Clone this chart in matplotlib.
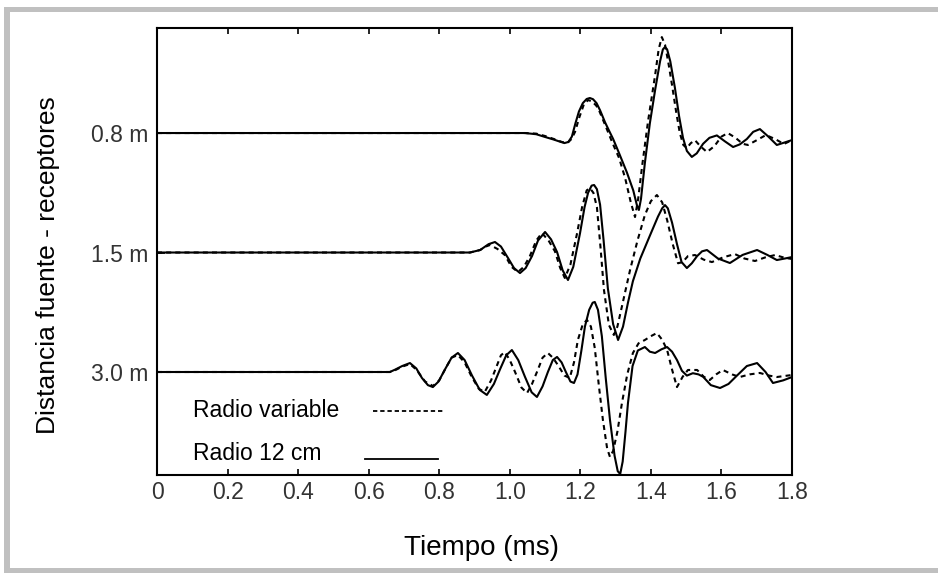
import matplotlib.pyplot as plt
from matplotlib.patches import Rectangle
from matplotlib.lines import Line2D

# receiver distances and where each trace sits on the vertical axis
distancias = ["0.8 m", "1.5 m", "3.0 m"]
offsets = [0.0, -1.0, -2.0]

# --- 0.8 m ---
t1_solid = [0.0, 0.972, 1.043, 1.075, 1.100, 1.125, 1.142, 1.155, 1.166, 1.176, 1.186, 1.196,
            1.207, 1.218, 1.227, 1.236, 1.246, 1.256, 1.270, 1.283, 1.293, 1.310, 1.332,
            1.350, 1.360, 1.366, 1.372, 1.383, 1.397, 1.412, 1.426, 1.434, 1.440, 1.446,
            1.455, 1.468, 1.480, 1.491, 1.502, 1.516, 1.530, 1.548, 1.566, 1.587, 1.610,
            1.633, 1.652, 1.672, 1.690, 1.709, 1.733, 1.757, 1.778, 1.800]
a1_solid = [0.0, 0.0, 0.0, -0.010, -0.033, -0.055, -0.072, -0.084, -0.075, -0.030, 0.080, 0.180,
            0.250, 0.285, 0.293, 0.283, 0.250, 0.190, 0.090, 0.010, -0.050, -0.170, -0.330,
            -0.480, -0.600, -0.644, -0.550, -0.250, 0.080, 0.360, 0.600, 0.700, 0.720, 0.700,
            0.600, 0.380, 0.140, -0.040, -0.150, -0.200, -0.170, -0.090, -0.040, -0.020, -0.070,
            -0.117, -0.095, -0.050, 0.010, 0.033, -0.030, -0.100, -0.080, -0.059]
t1_dash = [0.0, 0.972, 1.043, 1.075, 1.100, 1.125, 1.148, 1.163, 1.175, 1.185, 1.197, 1.210,
           1.222, 1.233, 1.245, 1.253, 1.270, 1.290, 1.310, 1.327, 1.343, 1.355, 1.364,
           1.375, 1.392, 1.412, 1.422, 1.431, 1.440, 1.450, 1.460, 1.472, 1.482, 1.492,
           1.502, 1.513, 1.525, 1.540, 1.559, 1.580, 1.600, 1.618, 1.640, 1.660, 1.675,
           1.700, 1.726, 1.752, 1.777, 1.800]
a1_dash = [0.0, 0.0, 0.0, -0.005, -0.025, -0.050, -0.075, -0.084, -0.050, 0.010, 0.130, 0.240,
           0.276, 0.265, 0.230, 0.190, 0.070, -0.075, -0.210, -0.377, -0.580, -0.703, -0.550,
           -0.280, 0.100, 0.485, 0.700, 0.803, 0.740, 0.580, 0.400, 0.170, 0.000, -0.100,
           -0.126, -0.085, -0.060, -0.110, -0.159, -0.110, -0.030, 0.000, -0.040, -0.090, -0.100,
           -0.060, -0.017, -0.050, -0.092, -0.059]

# --- 1.5 m ---
t2_solid = [0.0, 0.887, 0.916, 0.940, 0.958, 0.975, 0.995, 1.012, 1.029, 1.045, 1.063, 1.080,
            1.100, 1.117, 1.134, 1.150, 1.165, 1.180, 1.199, 1.212, 1.222, 1.232, 1.239,
            1.247, 1.256, 1.266, 1.278, 1.293, 1.307, 1.321, 1.335, 1.349, 1.370, 1.397,
            1.420, 1.432, 1.440, 1.448, 1.460, 1.474, 1.487, 1.502, 1.516, 1.531, 1.545,
            1.559, 1.590, 1.624, 1.660, 1.701, 1.730, 1.757, 1.780, 1.800]
a2_solid = [0.0, 0.0, 0.021, 0.070, 0.088, 0.050, -0.046, -0.130, -0.172, -0.130, -0.030, 0.100,
            0.172, 0.110, 0.004, -0.150, -0.230, -0.120, 0.160, 0.380, 0.500, 0.560, 0.565,
            0.530, 0.400, 0.100, -0.300, -0.600, -0.732, -0.620, -0.420, -0.240, -0.050, 0.140,
            0.300, 0.370, 0.397, 0.370, 0.250, 0.070, -0.080, -0.130, -0.090, -0.030, 0.010,
            0.021, -0.050, -0.088, -0.020, 0.021, -0.020, -0.063, -0.050, -0.038]
t2_dash = [0.0, 0.887, 0.916, 0.932, 0.944, 0.965, 0.986, 1.005, 1.023, 1.040, 1.057, 1.075,
           1.091, 1.110, 1.128, 1.143, 1.156, 1.172, 1.190, 1.205, 1.218, 1.227, 1.237,
           1.247, 1.257, 1.267, 1.281, 1.295, 1.305, 1.318, 1.341, 1.362, 1.383, 1.400,
           1.417, 1.432, 1.446, 1.462, 1.477, 1.490, 1.505, 1.525, 1.550, 1.573, 1.605,
           1.638, 1.665, 1.695, 1.725, 1.752, 1.780, 1.800]
a2_dash = [0.0, 0.0, 0.021, 0.050, 0.063, 0.030, -0.021, -0.120, -0.163, -0.120, -0.030, 0.100,
           0.163, 0.100, 0.010, -0.130, -0.213, -0.100, 0.150, 0.380, 0.520, 0.539, 0.500,
           0.380, 0.050, -0.314, -0.607, -0.690, -0.620, -0.450, -0.146, 0.100, 0.314, 0.430,
           0.481, 0.420, 0.272, 0.070, -0.090, -0.080, -0.030, -0.021, -0.060, -0.080, -0.040,
           -0.013, -0.050, -0.071, -0.040, -0.021, -0.045, -0.054]

# --- 3.0 m ---
t3_solid = [0.0, 0.660, 0.675, 0.695, 0.717, 0.735, 0.751, 0.768, 0.782, 0.798, 0.816, 0.835,
            0.853, 0.872, 0.893, 0.915, 0.935, 0.955, 0.972, 0.990, 1.006, 1.024, 1.043,
            1.062, 1.077, 1.093, 1.108, 1.122, 1.134, 1.147, 1.159, 1.172, 1.182, 1.192,
            1.203, 1.213, 1.225, 1.235, 1.241, 1.250, 1.261, 1.272, 1.284, 1.297, 1.306,
            1.313, 1.320, 1.328, 1.335, 1.348, 1.363, 1.383, 1.397, 1.412, 1.430, 1.446,
            1.460, 1.474, 1.488, 1.502, 1.519, 1.535, 1.548, 1.570, 1.596, 1.620, 1.644,
            1.672, 1.701, 1.725, 1.746, 1.775, 1.800]
a3_solid = [0.0, 0.0, 0.020, 0.050, 0.075, 0.030, -0.050, -0.110, -0.126, -0.080, 0.020, 0.120,
            0.159, 0.100, -0.030, -0.150, -0.192, -0.100, 0.020, 0.140, 0.184, 0.100, -0.040,
            -0.170, -0.209, -0.120, 0.000, 0.100, 0.126, 0.080, 0.000, -0.080, -0.092, -0.020,
            0.180, 0.380, 0.520, 0.580, 0.586, 0.520, 0.300, -0.050, -0.400, -0.700, -0.830,
            -0.854, -0.750, -0.500, -0.260, 0.050, 0.180, 0.209, 0.170, 0.159, 0.190, 0.209,
            0.170, 0.100, 0.010, -0.030, -0.010, -0.020, -0.040, -0.110, -0.134, -0.100, -0.030,
            0.050, 0.075, 0.000, -0.092, -0.070, -0.042]
t3_dash = [0.0, 0.660, 0.675, 0.695, 0.717, 0.735, 0.760, 0.782, 0.800, 0.818, 0.835, 0.853,
           0.872, 0.892, 0.912, 0.929, 0.947, 0.963, 0.975, 0.986, 1.000, 1.015, 1.033,
           1.049, 1.063, 1.077, 1.093, 1.108, 1.122, 1.136, 1.155, 1.170, 1.182, 1.193,
           1.207, 1.219, 1.230, 1.241, 1.252, 1.264, 1.276, 1.284, 1.293, 1.305, 1.318,
           1.333, 1.349, 1.365, 1.383, 1.400, 1.417, 1.432, 1.446, 1.460, 1.474, 1.490,
           1.505, 1.531, 1.550, 1.567, 1.585, 1.604, 1.630, 1.652, 1.680, 1.709, 1.735,
           1.757, 1.800]
a3_dash = [0.0, 0.0, 0.015, 0.045, 0.067, 0.020, -0.080, -0.117, -0.070, 0.030, 0.120, 0.142,
           0.080, -0.040, -0.140, -0.167, -0.070, 0.050, 0.140, 0.167, 0.100, 0.000, -0.130,
           -0.176, -0.100, 0.000, 0.120, 0.159, 0.120, 0.060, -0.030, -0.050, 0.080, 0.268,
           0.400, 0.435, 0.380, 0.200, -0.100, -0.402, -0.640, -0.711, -0.660, -0.500, -0.259,
           -0.020, 0.159, 0.240, 0.268, 0.300, 0.326, 0.270, 0.184, 0.020, -0.126, -0.040,
           0.017, 0.017, -0.040, -0.067, -0.020, 0.017, -0.020, -0.042, -0.020, -0.008, -0.030,
           -0.042, -0.025]

solid = [(t1_solid, a1_solid), (t2_solid, a2_solid), (t3_solid, a3_solid)]
dashed = [(t1_dash, a1_dash), (t2_dash, a2_dash), (t3_dash, a3_dash)]

xticks = [0, 0.2, 0.4, 0.6, 0.8, 1.0, 1.2, 1.4, 1.6, 1.8]
xtick_labels = ["0", "0.2", "0.4", "0.6", "0.8", "1.0", "1.2", "1.4", "1.6", "1.8"]

plt.rcParams['font.family'] = ['Liberation Sans', 'DejaVu Sans']

fig = plt.figure(figsize=(9.38, 5.78), dpi=100)
fig.patch.set_facecolor('white')

# grey frame (open on the right side)
grey = '#c0c0c0'
W, H = 938.0, 578.0
fig.patches.append(Rectangle((4 / W, 1 - 12 / H), 1.0, 5 / H, transform=fig.transFigure,
                             facecolor=grey, edgecolor='none'))
fig.patches.append(Rectangle((4 / W, 1 - 573 / H), 1.0, 5 / H, transform=fig.transFigure,
                             facecolor=grey, edgecolor='none'))
fig.patches.append(Rectangle((4 / W, 1 - 573 / H), 6 / W, 566 / H, transform=fig.transFigure,
                             facecolor=grey, edgecolor='none'))

ax = fig.add_axes([157 / W, 1 - 475 / H, 635 / W, 447 / H])

lw = 1.5
dash_style = (0, (2.4, 2.0))
for off, (t, a) in zip(offsets, solid):
    ax.plot(t, [v + off for v in a], color='black', lw=lw,
            solid_joinstyle='round', solid_capstyle='round')
for off, (t, a) in zip(offsets, dashed):
    ax.plot(t, [v + off for v in a], color='black', lw=lw, linestyle=dash_style,
            dash_joinstyle='round')

ax.set_xlim(0, 1.8)
ax.set_ylim(-2.862, 0.879)
ax.set_xticks(xticks)
ax.set_xticklabels(xtick_labels)
ax.set_yticks(offsets)
ax.set_yticklabels(distancias)

ax.tick_params(axis='x', direction='in', top=True, length=4, width=1.2,
               labelsize=16.5, labelcolor='#333333', pad=4)
ax.tick_params(axis='y', direction='in', length=6, width=1.2,
               labelsize=16.5, labelcolor='#333333', pad=6)
for s in ax.spines.values():
    s.set_linewidth(1.5)

# legend drawn by hand: text on the left, line sample on the right
ax.text(0.0567, 0.1454, "Radio variable", transform=ax.transAxes, fontsize=16.5,
        va='center', ha='left')
ax.add_line(Line2D([0.340, 0.4535], [0.1432, 0.1432], transform=ax.transAxes,
                   color='black', lw=1.3, linestyle=(0, (2.4, 1.6))))
ax.text(0.0567, 0.047, "Radio 12 cm", transform=ax.transAxes, fontsize=16.5,
        va='center', ha='left')
ax.add_line(Line2D([0.3276, 0.4425], [0.0358, 0.0358], transform=ax.transAxes,
                   color='black', lw=1.3))

fig.text(482 / W, 1 - 548 / H, "Tiempo (ms)", fontsize=20, ha='center', va='center')
fig.text(48 / W, 1 - 265 / H, "Distancia fuente - receptores", fontsize=19,
         ha='center', va='center', rotation=90)

fig.savefig("out.png", dpi=100, facecolor='white')
